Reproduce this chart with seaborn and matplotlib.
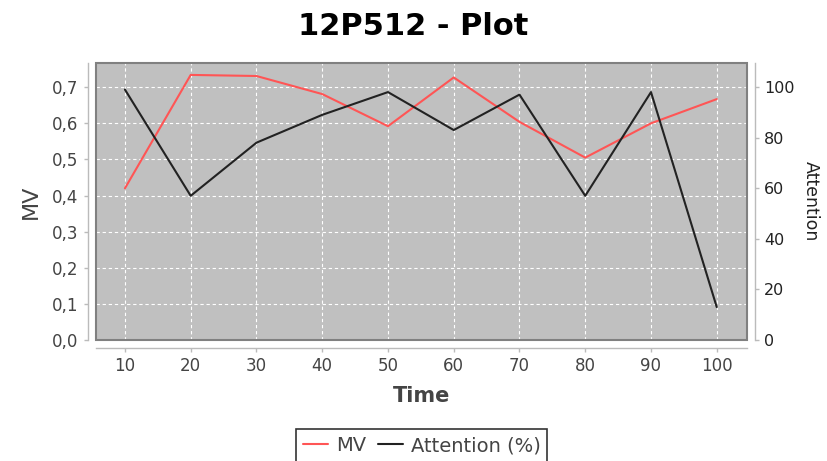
import numpy as np
import pandas as pd
import matplotlib
matplotlib.use("Agg")
import matplotlib.pyplot as plt
from matplotlib.ticker import FuncFormatter, MultipleLocator
from matplotlib.patches import Rectangle
import seaborn as sns

# values
time = [10, 20, 30, 40, 50, 60, 70, 80, 90, 100]
mv = [0.42, 0.734, 0.731, 0.681, 0.592, 0.727, 0.604, 0.505, 0.60, 0.667]
attention = [99, 57, 78, 89, 98, 83, 97, 57, 98, 13]

df = pd.DataFrame({"Time": time, "MV": mv, "Attention": attention})

sns.set_style("white")
plt.rcParams["font.family"] = ["DejaVu Sans"]

fig = plt.figure(figsize=(8.27, 4.61), dpi=100)
ax = fig.add_axes([96 / 827, 1 - 340 / 461, 651 / 827, 277 / 461])
ax2 = ax.twinx()

ax.set_facecolor("#c0c0c0")
ax.grid(True, color="white", linestyle=(0, (3, 2.5)), linewidth=0.8)
ax.set_axisbelow(True)

sns.lineplot(data=df, x="Time", y="MV", ax=ax, color="#ff5555",
             linewidth=1.5, label="MV", legend=False)
sns.lineplot(data=df, x="Time", y="Attention", ax=ax2, color="#222222",
             linewidth=1.5, label="Attention (%)", legend=False)

ax.set_xlim(5.6, 104.6)
ax.set_ylim(0, 0.767)
ax2.set_ylim(0, 109.5)
ax.xaxis.set_major_locator(MultipleLocator(10))
ax.yaxis.set_major_locator(MultipleLocator(0.1))
ax2.yaxis.set_major_locator(MultipleLocator(20))
ax.yaxis.set_major_formatter(FuncFormatter(lambda v, p: f"{v:.1f}".replace(".", ",")))

# jfreechart-like axes: detached light axis lines, dark plot border
for a in (ax, ax2):
    for s in a.spines.values():
        s.set_visible(False)
ax.spines["left"].set_visible(True)
ax.spines["left"].set_position(("outward", 6))
ax.spines["bottom"].set_visible(True)
ax.spines["bottom"].set_position(("outward", 6))
ax2.spines["right"].set_visible(True)
ax2.spines["right"].set_position(("outward", 6))
for s in (ax.spines["left"], ax.spines["bottom"], ax2.spines["right"]):
    s.set_color("#bbbbbb")
    s.set_linewidth(1)
ax.add_patch(Rectangle((0, 0), 1, 1, transform=ax.transAxes, fill=False,
                       edgecolor="#808080", linewidth=1.5, zorder=5, clip_on=False))

ax.tick_params(axis="both", length=3, width=1, color="#bbbbbb", labelsize=12,
               labelcolor="#444444", left=True, bottom=True)
ax2.tick_params(axis="y", length=3, width=1, color="#bbbbbb", labelsize=11.5,
                labelcolor="#222222", right=True)

ax.set_xlabel("Time", fontsize=15, fontweight="bold", color="#444444", labelpad=8)
ax.set_ylabel("MV", fontsize=16, color="#444444", labelpad=8)
ax2.set_ylabel("Attention", fontsize=12.5, color="#222222", rotation=270, labelpad=18)

fig.suptitle("12P512 - Plot", fontsize=22, fontweight="bold", color="black", y=0.975)

h1, l1 = ax.get_legend_handles_labels()
h2, l2 = ax2.get_legend_handles_labels()
leg = fig.legend(h1 + h2, l1 + l2, loc="upper center", bbox_to_anchor=(0.51, 0.09),
                 ncol=2, frameon=True, fancybox=False, edgecolor="black",
                 fontsize=14, handlelength=1.3, columnspacing=0.6,
                 handletextpad=0.4, borderpad=0.35)
leg.get_frame().set_linewidth(1.2)
for t in leg.get_texts():
    t.set_color("#444444")

fig.savefig("out.png", dpi=100)
